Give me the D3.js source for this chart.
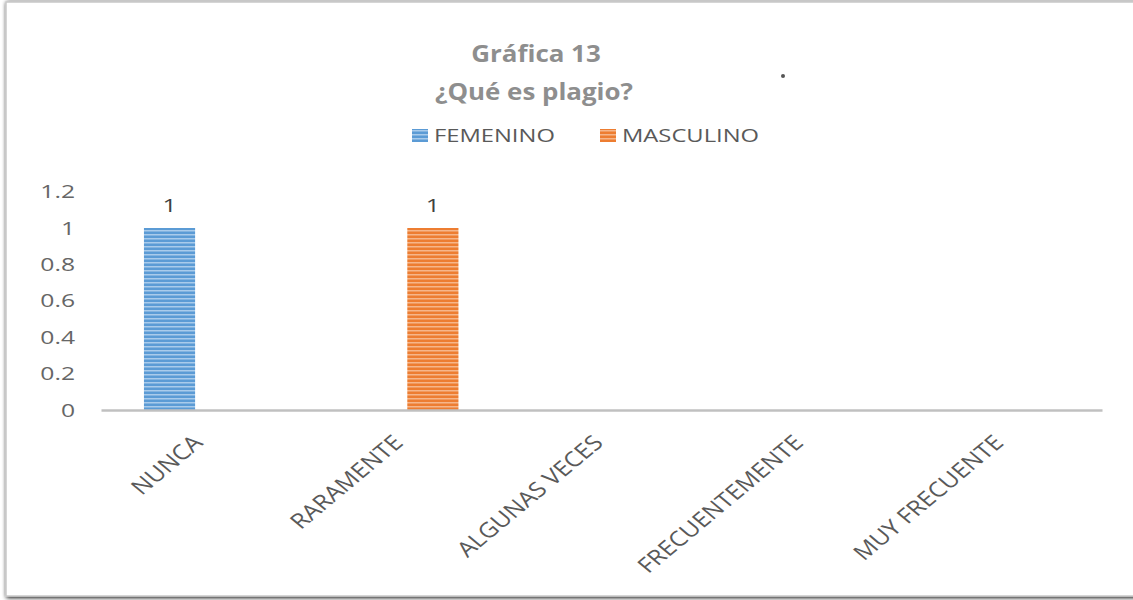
<!DOCTYPE html>
<html>
<head>
<meta charset="utf-8">
<script src="https://cdn.jsdelivr.net/npm/d3@7"></script>
<style>
  body { margin: 0; background: #fff; }
  svg { display: block; font-family: "Open Sans", "DejaVu Sans", sans-serif; }
</style>
</head>
<body>
<div class="board"></div>
<script>
// chart data
var categories = ["NUNCA", "RARAMENTE", "ALGUNAS VECES", "FRECUENTEMENTE", "MUY FRECUENTE"];
var seriesNames = ["FEMENINO", "MASCULINO"];
var femenino = [1, 0, 0, 0, 0];
var masculino = [0, 1, 0, 0, 0];
var yTicks = [0, 0.2, 0.4, 0.6, 0.8, 1, 1.2];
var colors = ["#5b9bd5", "#ed7d31"];
var lightColors = ["#a9cbeb", "#f6b68a"];

var boardInfo = { width: 1133, height: 600 };

var svg = d3.select(".board").append("svg")
  .attr("width", boardInfo.width)
  .attr("height", boardInfo.height);

var defs = svg.append("defs");

// soft shadow for the frame
var shadow = defs.append("filter").attr("id", "shadow")
  .attr("x", "-5%").attr("y", "-5%").attr("width", "110%").attr("height", "110%");
shadow.append("feGaussianBlur").attr("in", "SourceAlpha").attr("stdDeviation", 2);
shadow.append("feOffset").attr("dx", 1).attr("dy", 1).attr("result", "b");
var merge = shadow.append("feMerge");
merge.append("feMergeNode").attr("in", "b");
merge.append("feMergeNode").attr("in", "SourceGraphic");

// striped fills like the reference bars
colors.forEach(function(c, i) {
  var p = defs.append("pattern").attr("id", "stripe" + i)
    .attr("patternUnits", "userSpaceOnUse").attr("width", 8).attr("height", 4);
  p.append("rect").attr("width", 8).attr("height", 4).attr("fill", c);
  p.append("rect").attr("y", 2).attr("width", 8).attr("height", 1.5).attr("fill", lightColors[i]);
});

// frame
svg.append("rect")
  .attr("x", 6).attr("y", 2)
  .attr("width", 1140).attr("height", 594)
  .attr("fill", "#fff")
  .attr("stroke", "#c8c8c8").attr("stroke-width", 1.5)
  .attr("filter", "url(#shadow)");

// the original picture is stretched sideways, so text gets a scaleX
function stretched(x, y, sx) {
  return "translate(" + x + "," + y + ") scale(" + sx + ",1)";
}

var plot = { left: 101, right: 1102, top: 191.6, bottom: 410 };

var x0 = d3.scaleBand().domain(categories).range([plot.left, plot.right]);
var x1 = d3.scaleBand().domain(seriesNames).range([0, x0.bandwidth()])
  .paddingInner(0.19).paddingOuter(0.68);
var y = d3.scaleLinear().domain([0, 1.2]).range([plot.bottom, plot.top]);

// title
svg.append("text").attr("transform", stretched(536, 62, 1.08))
  .attr("text-anchor", "middle").attr("font-size", 24).attr("font-weight", "bold")
  .attr("fill", "#8e8e8e").text("Gráfica 13");
svg.append("text").attr("transform", stretched(534, 100, 1.08))
  .attr("text-anchor", "middle").attr("font-size", 24).attr("font-weight", "bold")
  .attr("fill", "#8e8e8e").text("¿Qué es plagio?");

// legend
var legendX = [412, 600];
seriesNames.forEach(function(s, i) {
  svg.append("rect").attr("x", legendX[i]).attr("y", 129)
    .attr("width", 16).attr("height", 13).attr("fill", "url(#stripe" + i + ")");
  svg.append("text").attr("transform", stretched(legendX[i] + 22, 142, 1.25))
    .attr("font-size", 19).attr("fill", "#595959").text(s);
});

// y axis labels (no axis line)
var yAxis = d3.axisLeft(y).tickValues(yTicks).tickSize(0).tickPadding(0)
  .tickFormat(function(d) { return String(+d.toFixed(1)); });
var yG = svg.append("g").attr("transform", "translate(75,0)").call(yAxis);
yG.select(".domain").remove();
yG.selectAll("text").attr("font-size", 19).attr("fill", "#666")
  .attr("font-family", "Open Sans, sans-serif")
  .attr("transform", "scale(1.3,1)");

// bars
var data = [];
categories.forEach(function(c, i) {
  data.push({ cat: c, series: seriesNames[0], value: femenino[i], idx: 0 });
  data.push({ cat: c, series: seriesNames[1], value: masculino[i], idx: 1 });
});
var shown = data.filter(function(d) { return d.value > 0; });

svg.selectAll(".bar").data(shown).enter().append("rect")
  .attr("class", "bar")
  .attr("x", function(d) { return x0(d.cat) + x1(d.series); })
  .attr("y", function(d) { return y(d.value); })
  .attr("width", x1.bandwidth())
  .attr("height", function(d) { return y(0) - y(d.value); })
  .attr("fill", function(d) { return "url(#stripe" + d.idx + ")"; });

svg.selectAll(".lbl").data(shown).enter().append("text")
  .attr("class", "lbl")
  .attr("transform", function(d) {
    return stretched(x0(d.cat) + x1(d.series) + x1.bandwidth() / 2, y(d.value) - 16, 1.3);
  })
  .attr("text-anchor", "middle").attr("font-size", 19).attr("fill", "#404040")
  .text(function(d) { return d.value; });

// x axis line
var xAxis = d3.axisBottom(x0).tickSize(0).tickPadding(0);
var xG = svg.append("g").attr("transform", "translate(0," + plot.bottom + ")").call(xAxis);
xG.select(".domain").attr("stroke", "#c0c0c0").attr("stroke-width", 2.5);
xG.selectAll("text")
  .attr("font-size", 21).attr("fill", "#595959")
  .attr("font-family", "Open Sans, sans-serif")
  .attr("text-anchor", "end")
  .attr("dy", 0)
  .attr("transform", "translate(3,34) scale(1.2,1) rotate(-45)");

// small stray dot from the original picture
svg.append("circle").attr("cx", 783).attr("cy", 76).attr("r", 2).attr("fill", "#555");
</script>
</body>
</html>
